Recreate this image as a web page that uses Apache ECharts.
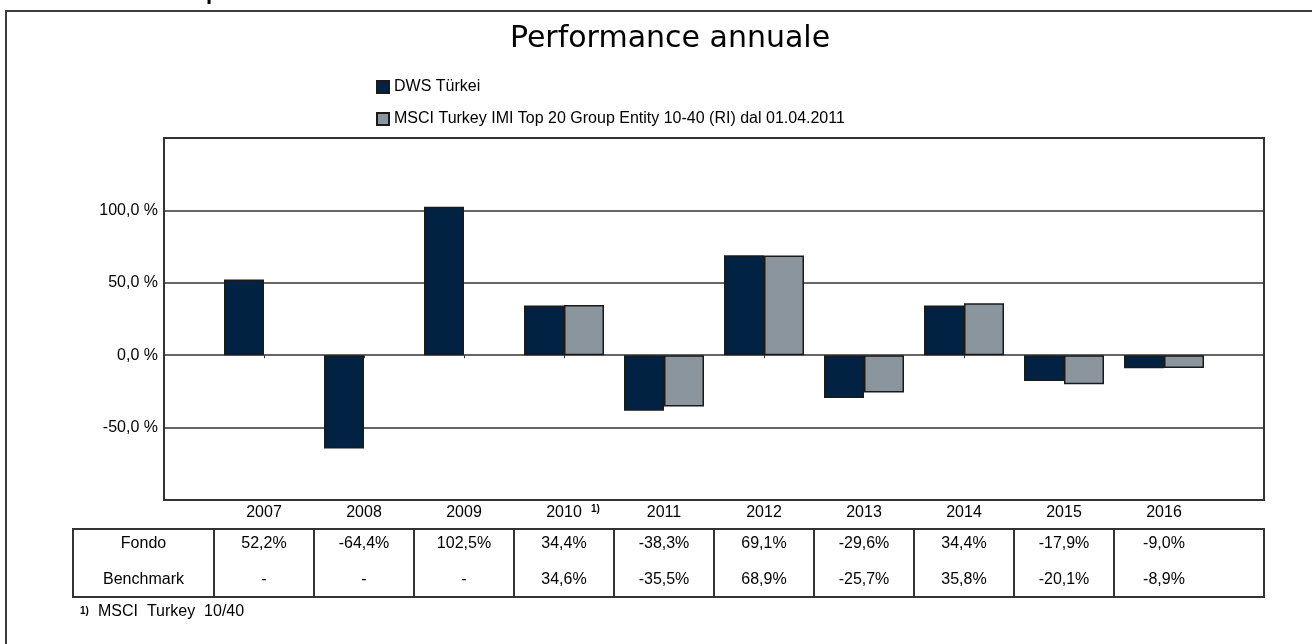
<!DOCTYPE html>
<html>
<head>
<meta charset="utf-8">
<script src="https://cdn.jsdelivr.net/npm/echarts@6/dist/echarts.min.js"></script>
<style>
html,body{margin:0;padding:0;background:#fff;}
#main{width:1312px;height:644px;}
</style>
</head>
<body>
<div id="main"></div>
<script>
// ---- data ----
var titleText = 'Performance annuale';
var years = ['2007','2008','2009','2010','2011','2012','2013','2014','2015','2016'];
var seriesNames = ['DWS Türkei', 'MSCI Turkey IMI Top 20 Group Entity 10-40 (RI) dal 01.04.2011'];
var fondo = [52.2, -64.4, 102.5, 34.4, -38.3, 69.1, -29.6, 34.4, -17.9, -9.0];
var benchmark = [null, null, null, 34.6, -35.5, 68.9, -25.7, 35.8, -20.1, -8.9];
var rowLabels = ['Fondo', 'Benchmark'];
var footnoteYear = '2010';
var footnoteMark = '1)';
var footnoteText = 'MSCI Turkey 10/40';
var yMin = -100, yMax = 150, yStep = 50;
var hiddenTicks = [-100, 150];

var FONT = '"Liberation Sans", Arial, sans-serif';
var DARK = '#022244', GRAY = '#8A959E', LINE = '#333333', TXT = '#000000';

function pct(v){ return v.toFixed(1).replace('.', ','); }

var chart = echarts.init(document.getElementById('main'), null, {renderer:'canvas'});

var option = {
  animation: false,
  backgroundColor: '#ffffff',
  title: {
    text: titleText,
    left: 665, top: 19, textAlign: 'center',
    textStyle: {fontFamily: '"DejaVu Sans", Verdana, sans-serif', fontSize: 30, fontWeight: 'normal', color: TXT}
  },
  legend: {
    orient: 'vertical', left: 371, top: 73,
    itemWidth: 12, itemHeight: 12, itemGap: 14,
    icon: 'rect',
    textStyle: {fontFamily: FONT, fontSize: 16, color: TXT, lineHeight: 18},
    data: seriesNames
  },
  grid: [
    {left: 164, top: 138, right: 48, bottom: 144, show: true, borderColor: LINE, borderWidth: 2, backgroundColor: 'transparent', containLabel: false},
    {left: 214, top: 138, width: 1000, bottom: 144, containLabel: false}
  ],
  xAxis: [
    {gridIndex: 0, type: 'value', min: 0, max: 1, show: false},
    {gridIndex: 1, type: 'category', data: years,
     axisLine: {show: false},
     axisTick: {show: true, alignWithLabel: true, interval: 0, length: 3, lineStyle: {color: LINE, width: 1}},
     axisLabel: {
       interval: 0, margin: 4, color: TXT, fontFamily: FONT, fontSize: 16, lineHeight: 18,
       formatter: function(v){ return v === footnoteYear ? '{sp|}' + v + '{sup|' + footnoteMark + '}' : v; },
       rich: {
         sp: {width: 18, lineHeight: 18},
         sup: {fontFamily: FONT, fontSize: 10, fontWeight: 'bold', color: TXT, lineHeight: 10, verticalAlign: 'top', width: 18, align: 'right'}
       }
     }
    }
  ],
  yAxis: [
    {gridIndex: 0, type: 'value', min: yMin, max: yMax, interval: yStep,
     axisLine: {show: false}, axisTick: {show: false},
     splitLine: {show: true, lineStyle: {color: LINE, width: 1.5}},
     axisLabel: {margin: 6, color: TXT, fontFamily: FONT, fontSize: 16,
       formatter: function(v){ return hiddenTicks.indexOf(v) >= 0 ? '' : pct(v) + ' %'; }}
    },
    {gridIndex: 1, type: 'value', min: yMin, max: yMax, interval: yStep, show: false, splitLine: {show: false}}
  ],
  series: [
    {name: seriesNames[0], type: 'bar', xAxisIndex: 1, yAxisIndex: 1, data: fondo,
     barWidth: 40, barGap: '0%',
     itemStyle: {color: DARK, borderColor: '#1a1a1a', borderWidth: 1.5}},
    {name: seriesNames[1], type: 'bar', xAxisIndex: 1, yAxisIndex: 1, data: benchmark,
     barWidth: 40, barGap: '0%',
     itemStyle: {color: GRAY, borderColor: '#1a1a1a', borderWidth: 1.5}}
  ]
};
chart.setOption(option);

// ---- table, frame and footnote, placed from the category axis ----
var centers = years.map(function(y){ return chart.convertToPixel({xAxisIndex: 1}, y); });
var band = centers.length > 1 ? centers[1] - centers[0] : 100;
var tableLeft = 73, tableRight = 1264, tableTop = 529, tableBottom = 597;
var rowY = [544, 580];
var g = [];
// outer page frame (left + top edges)
g.push({type: 'polyline', shape: {points: [[6, 650], [6, 11], [1320, 11]]}, style: {stroke: '#3c3c3c', lineWidth: 2, fill: null}, z: 1});
// cut-off heading glyph at very top
g.push({type: 'text', x: 206, y: -7, style: {text: 'p', font: 'bold 22px ' + FONT, fill: TXT, verticalAlign: 'middle'}, z: 1});
// table border
g.push({type: 'rect', shape: {x: tableLeft, y: tableTop, width: tableRight - tableLeft, height: tableBottom - tableTop}, style: {stroke: LINE, lineWidth: 2, fill: null}, z: 1});
centers.forEach(function(c){
  g.push({type: 'line', shape: {x1: c - band/2, y1: tableTop, x2: c - band/2, y2: tableBottom}, style: {stroke: LINE, lineWidth: 2}, z: 1});
});
var firstColCenter = (tableLeft + centers[0] - band/2) / 2;
rowLabels.forEach(function(lbl, r){
  g.push({type: 'text', x: firstColCenter, y: rowY[r], style: {text: lbl, font: '16px ' + FONT, fill: TXT, align: 'center', verticalAlign: 'middle'}, z: 2});
});
centers.forEach(function(c, i){
  var f = fondo[i], b = benchmark[i];
  g.push({type: 'text', x: c, y: rowY[0], style: {text: f == null ? '-' : pct(f) + '%', font: '16px ' + FONT, fill: TXT, align: 'center', verticalAlign: 'middle'}, z: 2});
  g.push({type: 'text', x: c, y: rowY[1], style: {text: b == null ? '-' : pct(b) + '%', font: '16px ' + FONT, fill: TXT, align: 'center', verticalAlign: 'middle'}, z: 2});
});
// footnote
g.push({type: 'text', x: 80, y: 611, style: {text: footnoteMark, font: 'bold 10px ' + FONT, fill: TXT, verticalAlign: 'middle'}, z: 2});
g.push({type: 'text', x: 98, y: 612, style: {text: footnoteText.replace(/ /g, '  '), font: '16px ' + FONT, fill: TXT, verticalAlign: 'middle'}, z: 2});

chart.setOption({graphic: g});
</script>
</body>
</html>
